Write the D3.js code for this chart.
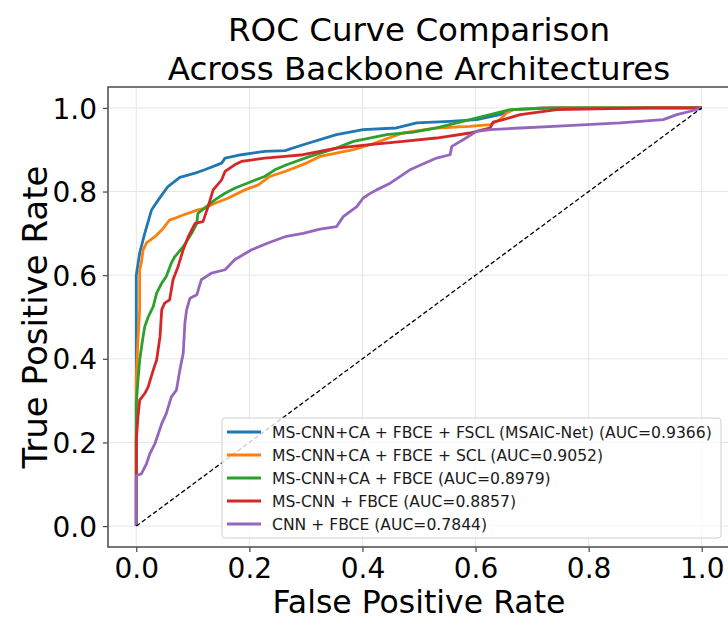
<!DOCTYPE html>
<html lang="en">
<head>
<meta charset="utf-8">
<script src="https://d3js.org/d3.v7.min.js"></script>
<title>ROC Curve Comparison</title>
<style>
  body { margin: 0; background: #fff; }
  svg { font-family: "DejaVu Sans", sans-serif; }
</style>
</head>
<body>
<div id="chart"></div>
<script>
// series names and colours
var seriesNames = [
  "MS-CNN+CA + FBCE + FSCL (MSAIC-Net) (AUC=0.9366)",
  "MS-CNN+CA + FBCE + SCL (AUC=0.9052)",
  "MS-CNN+CA + FBCE (AUC=0.8979)",
  "MS-CNN + FBCE (AUC=0.8857)",
  "CNN + FBCE (AUC=0.7844)"
];
var seriesColors = ["#1f77b4", "#ff7f0e", "#2ca02c", "#d62728", "#9467bd"];

// ROC points [fpr, tpr]
var rocBlue = [[0,0],[0,0.6],[0.006,0.653],[0.015,0.70],[0.027,0.756],[0.039,0.78],[0.056,0.812],
  [0.077,0.834],[0.104,0.844],[0.121,0.852],[0.151,0.868],[0.157,0.88],[0.186,0.888],[0.227,0.896],
  [0.263,0.898],[0.295,0.912],[0.354,0.936],[0.401,0.948],[0.46,0.952],[0.496,0.964],[0.555,0.968],
  [0.602,0.972],[0.643,0.984],[0.667,0.996],[0.72,1.0],[1,1]];
var rocOrange = [[0,0],[0,0.349],[0.003,0.445],[0.006,0.517],[0.006,0.613],[0.009,0.63],[0.012,0.66],
  [0.018,0.677],[0.033,0.692],[0.045,0.708],[0.059,0.732],[0.068,0.736],[0.083,0.744],[0.109,0.756],
  [0.121,0.76],[0.139,0.772],[0.162,0.784],[0.192,0.804],[0.216,0.816],[0.236,0.836],[0.263,0.848],
  [0.301,0.868],[0.325,0.884],[0.384,0.90],[0.413,0.912],[0.472,0.94],[0.531,0.952],[0.59,0.956],
  [0.626,0.96],[0.643,0.972],[0.655,0.988],[0.667,0.996],[0.72,1.0],[1,1]];
var rocGreen = [[0,0],[0,0.293],[0.003,0.349],[0.006,0.397],[0.012,0.453],[0.015,0.477],[0.021,0.50],
  [0.03,0.525],[0.036,0.557],[0.045,0.581],[0.053,0.597],[0.062,0.629],[0.068,0.644],[0.083,0.668],
  [0.098,0.70],[0.107,0.724],[0.109,0.748],[0.124,0.764],[0.139,0.78],[0.157,0.796],[0.174,0.808],
  [0.204,0.824],[0.227,0.836],[0.245,0.852],[0.266,0.864],[0.307,0.884],[0.354,0.904],[0.384,0.92],
  [0.443,0.936],[0.49,0.942],[0.531,0.952],[0.59,0.972],[0.626,0.984],[0.661,0.996],[0.744,1.0],[1,1]];
var rocRed = [[0,0],[0,0.205],[0.003,0.261],[0.006,0.301],[0.015,0.317],[0.021,0.333],[0.03,0.373],
  [0.036,0.397],[0.042,0.453],[0.045,0.517],[0.05,0.533],[0.059,0.541],[0.062,0.565],[0.065,0.589],
  [0.074,0.621],[0.083,0.661],[0.092,0.692],[0.104,0.724],[0.118,0.728],[0.127,0.764],[0.136,0.804],
  [0.151,0.828],[0.157,0.848],[0.174,0.864],[0.186,0.872],[0.227,0.88],[0.263,0.884],[0.295,0.888],
  [0.354,0.904],[0.413,0.912],[0.472,0.92],[0.531,0.928],[0.59,0.94],[0.626,0.952],[0.631,0.966],
  [0.649,0.972],[0.679,0.984],[0.744,0.996],[0.909,1.0],[1,1]];
var rocPurple = [[0,0],[0,0.121],[0.009,0.125],[0.018,0.149],[0.024,0.173],[0.033,0.197],[0.045,0.245],
  [0.053,0.269],[0.062,0.309],[0.071,0.325],[0.077,0.373],[0.083,0.413],[0.086,0.485],[0.089,0.517],
  [0.095,0.545],[0.107,0.553],[0.115,0.589],[0.133,0.605],[0.157,0.613],[0.174,0.637],[0.204,0.661],
  [0.233,0.677],[0.263,0.692],[0.295,0.70],[0.325,0.71],[0.354,0.716],[0.366,0.74],[0.39,0.764],
  [0.401,0.784],[0.413,0.795],[0.425,0.804],[0.449,0.82],[0.484,0.852],[0.531,0.88],[0.555,0.888],
  [0.558,0.908],[0.578,0.924],[0.602,0.944],[0.626,0.948],[0.679,0.952],[0.738,0.956],[0.797,0.96],
  [0.856,0.964],[0.932,0.972],[0.956,0.984],[0.98,0.992],[1,1]];
var allRocs = [rocBlue, rocOrange, rocGreen, rocRed, rocPurple];

var tickValues = [0, 0.2, 0.4, 0.6, 0.8, 1.0];
var chance = [[0,0],[1,1]];

var W = 728, H = 622;
var margin = {top: 87, right: -2, bottom: 75, left: 108};
var width = W - margin.left - margin.right,
    height = H - margin.top - margin.bottom;

var svg = d3.select("#chart").append("svg")
  .attr("width", W).attr("height", H);

var g = svg.append("g")
  .attr("transform", "translate(" + margin.left + "," + margin.top + ")");

var x = d3.scaleLinear().domain([-0.05, 1.05]).range([0, width]);
var y = d3.scaleLinear().domain([-0.05, 1.05]).range([height, 0]);

// grid
g.append("g").selectAll("line").data(tickValues).enter().append("line")
  .attr("x1", function(d) { return x(d); }).attr("x2", function(d) { return x(d); })
  .attr("y1", 0).attr("y2", height)
  .attr("stroke", "#e6e6e6").attr("stroke-width", 1);
g.append("g").selectAll("line").data(tickValues).enter().append("line")
  .attr("y1", function(d) { return y(d); }).attr("y2", function(d) { return y(d); })
  .attr("x1", 0).attr("x2", width)
  .attr("stroke", "#e6e6e6").attr("stroke-width", 1);

var line = d3.line()
  .x(function(d) { return x(d[0]); })
  .y(function(d) { return y(d[1]); });

allRocs.forEach(function(pts, i) {
  g.append("path").datum(pts)
    .attr("d", line)
    .attr("fill", "none")
    .attr("stroke", seriesColors[i])
    .attr("stroke-width", 2.8)
    .attr("stroke-linejoin", "round");
});

g.append("path").datum(chance)
  .attr("d", line)
  .attr("fill", "none")
  .attr("stroke", "#000")
  .attr("stroke-width", 1.3)
  .attr("stroke-dasharray", "4.5,2.5");

// axes
var xAxis = g.append("g")
  .attr("transform", "translate(0," + height + ")")
  .call(d3.axisBottom(x).tickValues(tickValues).tickFormat(d3.format(".1f")).tickSizeOuter(0).tickSize(5).tickPadding(6));
var yAxis = g.append("g")
  .call(d3.axisLeft(y).tickValues(tickValues).tickFormat(d3.format(".1f")).tickSizeOuter(0).tickSize(5).tickPadding(6));
[xAxis, yAxis].forEach(function(a) {
  a.selectAll("text").attr("font-size", 28).attr("fill", "#000").attr("font-family", "DejaVu Sans");
  a.selectAll("line").attr("stroke", "#444").attr("stroke-width", 1.2);
  a.select(".domain").remove();
});
xAxis.selectAll("text").attr("dy", null).attr("y", 31);
yAxis.selectAll("text").attr("dy", "0.36em");

// frame
g.append("rect").attr("x", 0).attr("y", 0).attr("width", width).attr("height", height)
  .attr("fill", "none").attr("stroke", "#555").attr("stroke-width", 1.6);

// legend
var lg = g.append("g").attr("transform", "translate(" + (222 - margin.left) + "," + (418 - margin.top) + ")");
lg.append("rect").attr("width", 499).attr("height", 120).attr("rx", 3)
  .attr("fill", "rgba(255,255,255,0.8)").attr("stroke", "#d0d0d0").attr("stroke-width", 1);
seriesNames.forEach(function(name, i) {
  var yy = 14 + i * 23;
  lg.append("line").attr("x1", 5).attr("x2", 39).attr("y1", yy).attr("y2", yy)
    .attr("stroke", seriesColors[i]).attr("stroke-width", 2.8);
  lg.append("text").attr("x", 50).attr("y", yy).attr("dy", "0.36em")
    .attr("font-size", 15.6).attr("fill", "#1a1a1a").text(name);
});

// titles
svg.append("text").attr("x", margin.left + width / 2).attr("y", 41)
  .attr("text-anchor", "middle").attr("font-size", 32.5).text("ROC Curve Comparison");
svg.append("text").attr("x", margin.left + width / 2).attr("y", 80)
  .attr("text-anchor", "middle").attr("font-size", 32.5).text("Across Backbone Architectures");
svg.append("text").attr("x", margin.left + width / 2).attr("y", 613)
  .attr("text-anchor", "middle").attr("font-size", 31.5).text("False Positive Rate");
svg.append("text").attr("transform", "translate(35," + (margin.top + height / 2) + ") rotate(-90)")
  .attr("text-anchor", "middle").attr("dy", "0.35em").attr("font-size", 34).text("True Positive Rate");
</script>
</body>
</html>
